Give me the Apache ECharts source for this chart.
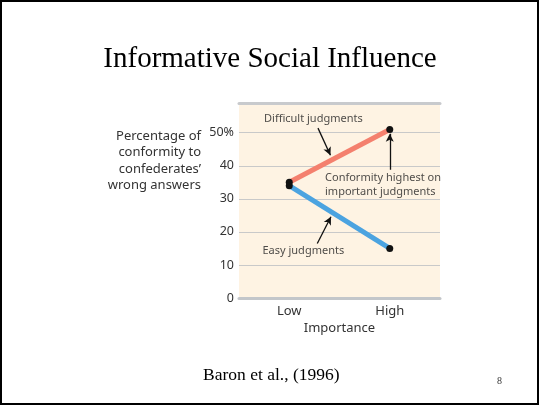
<!DOCTYPE html>
<html><head><meta charset="utf-8">
<script src="https://cdn.jsdelivr.net/npm/echarts@6/dist/echarts.min.js"></script>
<style>html,body{margin:0;padding:0;background:#fff}#c{width:540px;height:407px}</style>
</head><body><div id="c"></div>
<script>
const categories = ['Low', 'High'];
const difficult = [35, 51];
const easy = [34, 15];
const yTicks = [0, 10, 20, 30, 40, 50];
const yLabels = ['0', '10', '20', '30', '40', '50%'];
const yTitle = 'Percentage of\nconformity to\nconfederates’\nwrong answers';
const annotations = [
  {name: 'Difficult judgments', x: 0.24, y: 54.1, align: 'center'},
  {name: 'Conformity highest on\nimportant judgments', x: 0.356, y: 34.1, align: 'left'},
  {name: 'Easy judgments', x: 0.14, y: 14.3, align: 'center'}
];
const arrows = [
  [[0.286, 51.4], [0.41, 43.2]],
  [[1.0, 38.8], [1.0, 49.7]],
  [[0.279, 16.5], [0.415, 24.6]]
];

const sans = 'Noto Sans';
const serif = 'Liberation Serif';
const chart = echarts.init(document.getElementById('c'), null, {renderer: 'canvas'});
chart.setOption({
  backgroundColor: '#ffffff',
  animation: false,
  title: [
    {text: 'Informative Social Influence', left: 'center', top: 40,
     textStyle: {fontFamily: serif, fontSize: 29, fontWeight: 'normal', color: '#000'}},
    {text: 'Baron et al., (1996)', left: 198, top: 361,
     textStyle: {fontFamily: serif, fontSize: 17.5, fontWeight: 'normal', color: '#000'}},
    {text: '8', left: 492, top: 371,
     textStyle: {fontFamily: serif, fontSize: 10, fontWeight: 'normal', color: '#333'}}
  ],
  graphic: [
    {type: 'rect', shape: {x: 1, y: 1, width: 537, height: 403},
     style: {fill: 'none', stroke: '#000', lineWidth: 2}, silent: true, z: 100},
    {type: 'text', x: 201, y: 128, silent: true,
     style: {text: yTitle, textAlign: 'right', textVerticalAlign: 'top',
             font: '13px "Noto Sans"', fill: '#333', lineHeight: 16.5}}
  ],
  grid: {left: 239, top: 103, width: 201, height: 195, show: true,
         backgroundColor: '#FEF3E3', borderWidth: 0},
  xAxis: [
    {type: 'value', min: -0.5, max: 1.5, interval: 0.5, position: 'bottom',
     name: 'Importance', nameLocation: 'middle', nameGap: 24,
     nameTextStyle: {fontFamily: sans, fontSize: 13, color: '#333'},
     axisLine: {show: true, lineStyle: {color: '#c3c6ca', width: 3}},
     axisTick: {show: false}, splitLine: {show: false},
     axisLabel: {margin: 7, fontFamily: sans, fontSize: 13, color: '#333',
       formatter: v => (Number.isInteger(v) && categories[v] !== undefined) ? categories[v] : ''}},
    {type: 'value', min: -0.5, max: 1.5, interval: 0.5, position: 'top',
     axisLine: {show: true, lineStyle: {color: '#c8cacd', width: 3}},
     axisTick: {show: false}, splitLine: {show: false}, axisLabel: {show: false}}
  ],
  yAxis: {
    type: 'value', min: 0, max: 59, interval: 10,
    axisLine: {show: false}, axisTick: {show: false},
    splitLine: {show: true, lineStyle: {color: '#c9c9c9', width: 1}},
    axisLabel: {margin: 5, fontFamily: sans, fontSize: 12.5, color: '#333',
      formatter: v => { const i = yTicks.indexOf(v); return i >= 0 ? yLabels[i] : ''; }}
  },
  series: [
    {name: 'Difficult judgments', type: 'line', data: difficult.map((v, i) => [i, v]),
     lineStyle: {color: '#F4806E', width: 5}, itemStyle: {color: '#111'},
     symbol: 'circle', symbolSize: 7, showSymbol: true, z: 3,
     markLine: {silent: true, symbol: ['none', 'arrow'], symbolSize: [6, 8],
       lineStyle: {color: '#111', width: 1.3, type: 'solid'}, label: {show: false},
       data: arrows.map(a => [{coord: a[0]}, {coord: a[1]}])}},
    {name: 'Easy judgments', type: 'line', data: easy.map((v, i) => [i, v]),
     lineStyle: {color: '#4BA3E0', width: 5}, itemStyle: {color: '#111'},
     symbol: 'circle', symbolSize: 7, showSymbol: true, z: 3},
    {name: 'labels', type: 'scatter', symbolSize: 0, silent: true,
     data: annotations.map(a => ({value: [a.x, a.y], name: a.name,
       label: {show: true, position: 'inside', formatter: a.name, align: a.align,
               fontFamily: sans, fontSize: 11, color: '#222', lineHeight: 14}}))}
  ]
});
</script></body></html>
